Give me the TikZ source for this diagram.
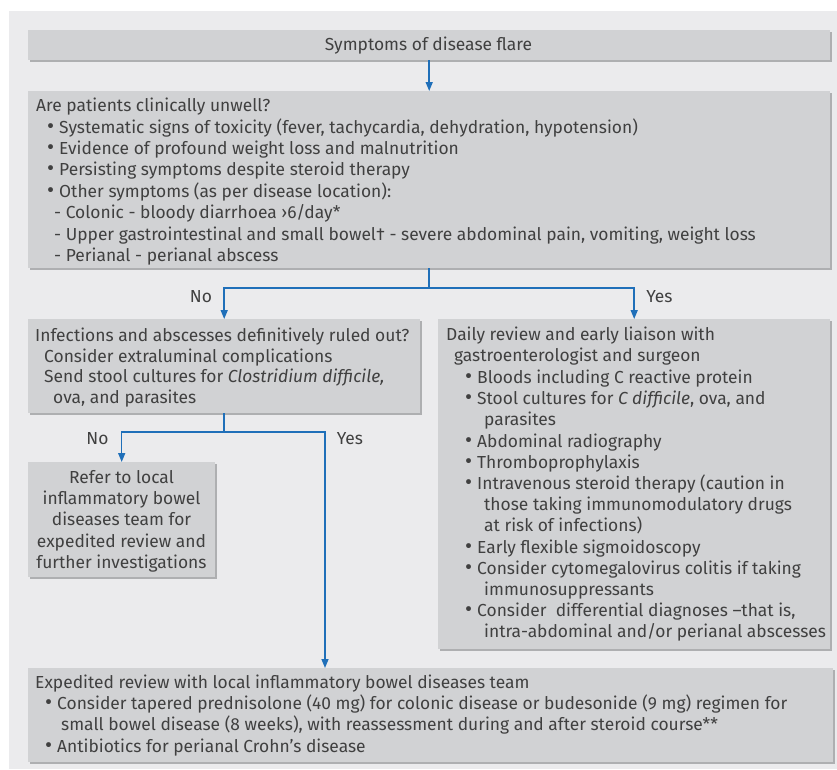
\documentclass[tikz,border=0pt]{standalone}
\usepackage{fontspec}
\setmainfont{Fira Sans}
\usetikzlibrary{shadows,arrows.meta}
\definecolor{panel}{HTML}{EBEBED}
\definecolor{boxfill}{HTML}{D1D2D4}
\definecolor{boxshadow}{HTML}{AEAFB1}
\definecolor{txtc}{HTML}{404040}
\definecolor{flow}{HTML}{1F6FB9}
\newcommand\mytl[4]{\node[txt] (#1) at (#2,#3) {#4};}
\newcommand\mybl[4]{\node[txt] (#1d) at (#2-12,#3) {\scalebox{1.25}{\textbullet}}; \node[txt] (#1) at (#2,#3) {#4};}
\begin{document}
\begin{tikzpicture}[x=1pt,y=-1pt,
  txt/.style={anchor=base west, inner sep=0pt, text=txtc, font=\fontsize{17.4}{21}\selectfont},
  ctxt/.style={txt, anchor=base},
  box/.style={anchor=north west, fill=boxfill, inner sep=0pt, draw=none,
    drop shadow={shadow xshift=2pt, shadow yshift=-2pt, fill=boxshadow, opacity=1}},
  flowline/.style={draw=flow, line width=1.5pt},
  flowarrow/.style={flowline, -{Triangle[length=9pt,width=7pt]}},
]
\fill[white] (0,0) rectangle (837,769);
\useasboundingbox (0,0) rectangle (837,769);
\fill[panel] (9,11) rectangle (837,769);

% boxes
\node[box, minimum width=802pt, minimum height=30pt] (b1) at (28,30) {};
\node[box, minimum width=802pt, minimum height=177pt] (b2) at (28,91) {};
\node[box, minimum width=392pt, minimum height=94pt] (b3) at (28,319) {};
\node[box, minimum width=392pt, minimum height=330pt] (b4) at (438,319) {};
\node[box, minimum width=187pt, minimum height=115pt] (b5) at (28,462) {};
\node[box, minimum width=805pt, minimum height=94pt] (b6) at (28,668) {};

% box 1
\node[ctxt] (t1) at (428.5,50) {Symptoms of disease flare};

% box 2
\mytl{t2a}{36}{111.6}{Are patients clinically unwell?}
\mybl{t2b}{59}{133}{Systematic signs of toxicity (fever, tachycardia, dehydration, hypotension)}
\mybl{t2c}{59}{154}{Evidence of profound weight loss and malnutrition}
\mybl{t2d}{59}{175.5}{Persisting symptoms despite steroid therapy}
\mybl{t2e}{59}{197}{Other symptoms (as per disease location):}
\mytl{t2f}{54}{218.5}{- Colonic - bloody diarrhoea ›6/day*}
\mytl{t2g}{54}{240}{- Upper gastrointestinal and small bowel† - severe abdominal pain, vomiting, weight loss}
\mytl{t2h}{54}{261}{- Perianal - perianal abscess}

% box 3
\mytl{t3a}{35}{341}{Infections and abscesses definitively ruled out?}
\mytl{t3b}{44}{362}{Consider extraluminal complications}
\mytl{t3c}{44}{382.5}{Send stool cultures for \textit{Clostridium difficile,}}
\mytl{t3d}{53}{403}{ova, and parasites}

% box 4
\mytl{t4a}{446}{340}{Daily review and early liaison with}
\mytl{t4b}{454}{361}{gastroenterologist and surgeon}
\mybl{t4c}{477}{383}{Bloods including C reactive protein}
\mybl{t4d}{477}{404}{Stool cultures for \textit{C difficile}, ova, and}
\mytl{t4e}{484}{425}{parasites}
\mybl{t4f}{477}{447}{Abdominal radiography}
\mybl{t4g}{477}{468}{Thromboprophylaxis}
\mybl{t4h}{477}{489}{Intravenous steroid therapy (caution in}
\mytl{t4i}{484}{510}{those taking immunomodulatory drugs}
\mytl{t4j}{484}{531}{at risk of infections)}
\mybl{t4k}{477}{553}{Early flexible sigmoidoscopy}
\mybl{t4l}{477}{574}{Consider cytomegalovirus colitis if taking}
\mytl{t4m}{484}{595}{immunosuppressants}
\mybl{t4n}{477}{616}{Consider\ \ differential diagnoses –that is,}
\mytl{t4o}{484}{637}{intra-abdominal and/or perianal abscesses}

% box 5
\node[ctxt] (t5a) at (121.5,483) {Refer to local};
\node[ctxt] (t5b) at (121.5,504) {inflammatory bowel};
\node[ctxt] (t5c) at (121.5,525) {diseases team for};
\node[ctxt] (t5d) at (121.5,547) {expedited review and};
\node[ctxt] (t5e) at (121.5,568) {further investigations};

% box 6
\mytl{t6a}{35}{688}{Expedited review with local inflammatory bowel diseases team}
\mybl{t6b}{57}{709}{Consider tapered prednisolone (40 mg) for colonic disease or budesonide (9 mg) regimen for}
\mytl{t6c}{61}{730}{small bowel disease (8 weeks), with reassessment during and after steroid course**}
\mybl{t6d}{57}{752}{Antibiotics for perianal Crohn’s disease}

% connectors
\draw[flowarrow] (b1.south) -- (b2.north);
\coordinate (j1) at (b2.south |- 0,288);
\draw[flowline] (b2.south) -- (j1);
\draw[flowarrow] (j1) -| (b3.north);
\draw[flowarrow] (j1) -| (b4.north);
\node[ctxt] (no1) at (201,302) {No};
\node[ctxt] (yes1) at (659.5,302) {Yes};

\coordinate (j2) at (b3.south |- 0,432);
\coordinate (yx) at (325,432);
\draw[flowline] (b3.south) -- (j2);
\draw[flowarrow] (j2) -| (b5.north);
\draw[flowarrow] (j2) -- (yx) -- (yx |- b6.north);
\node[ctxt] (no2) at (97.5,444) {No};
\node[ctxt] (yes2) at (350,444) {Yes};
\end{tikzpicture}
\end{document}
